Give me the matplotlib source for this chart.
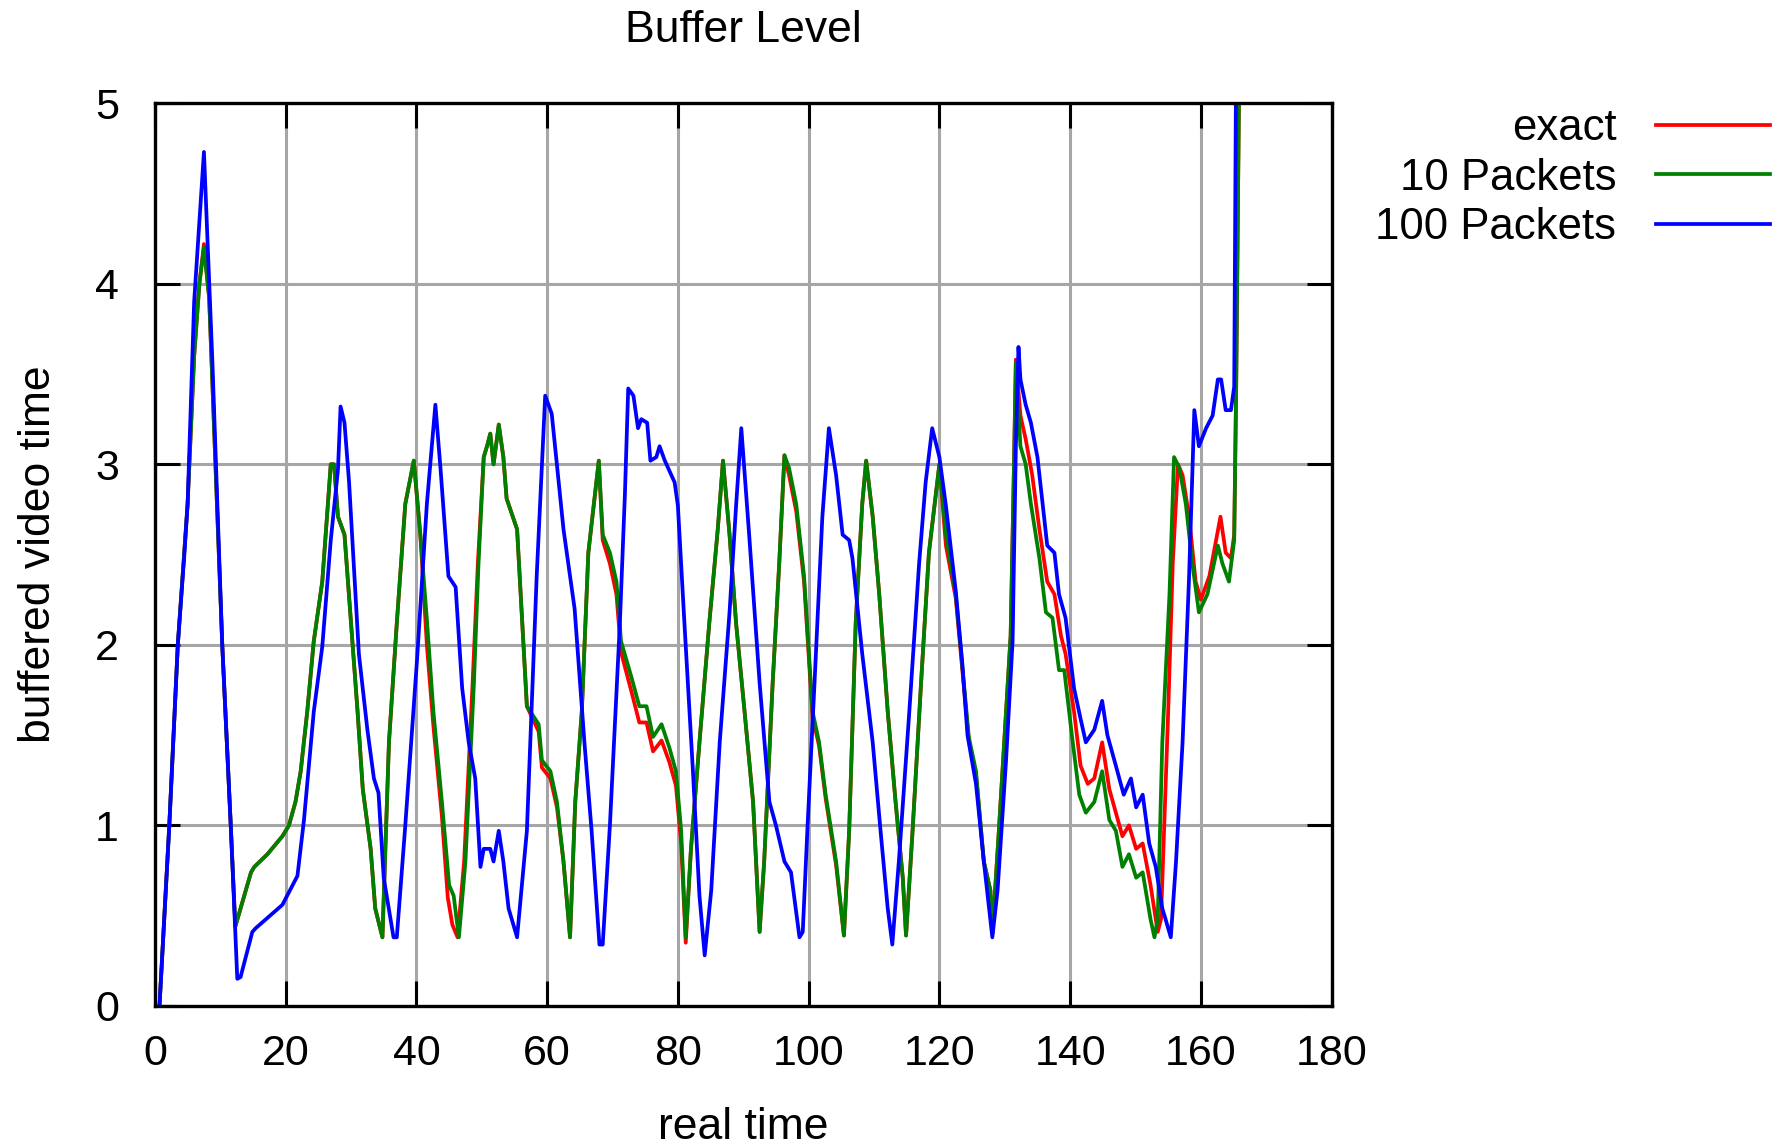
import matplotlib
matplotlib.use("Agg")
import matplotlib.pyplot as plt

plt.rcParams['font.family'] = ['Liberation Sans', 'DejaVu Sans']

title = "Buffer Level"
xlabel = "real time"
ylabel = "buffered video time"
labels = ["exact", "10 Packets", "100 Packets"]
colors = ["#ff0000", "#008000", "#0000ff"]
xticks = [0, 20, 40, 60, 80, 100, 120, 140, 160, 180]
yticks = [0, 1, 2, 3, 4, 5]

p10_t = [0.7, 2.2, 3.5, 5.0, 6.0, 6.8, 7.5, 8.3, 10.3, 11.6, 12.3, 13.1, 14.7, 15.2, 17.2, 19.5,
         20.5, 21.5, 22.3, 23.3, 24.3, 25.6, 26.9, 27.4, 28.0, 29.0, 30.0, 31.0, 31.8, 33.0, 33.7,
         34.8, 35.8, 37.0, 38.3, 39.6, 40.6, 41.6, 42.6, 43.9, 45.0, 45.7, 46.5, 47.5, 48.8, 49.5,
         50.3, 50.8, 51.3, 51.8, 52.6, 53.3, 53.8, 55.4, 56.9, 58.7, 59.2, 60.5, 61.5, 62.5, 63.5,
         64.3, 65.3, 66.3, 67.9, 68.5, 69.6, 70.6, 71.3, 72.9, 74.1, 75.2, 76.2, 77.5, 78.7, 79.7,
         80.5, 81.2, 82.0, 83.3, 84.8, 86.1, 86.9, 87.9, 88.9, 90.2, 91.5, 92.5, 93.2, 94.5, 95.5,
         96.3, 97.0, 98.1, 99.3, 100.6, 101.6, 102.6, 104.2, 105.4, 106.2, 107.2, 108.2, 108.8,
         109.8, 110.8, 112.1, 113.3, 114.4, 114.9, 115.9, 117.2, 118.4, 120.0, 121.0, 122.5, 124.5,
         125.6, 126.8, 127.8, 128.1, 129.1, 130.2, 130.9, 131.4, 131.7, 132.4, 133.2, 134.0, 135.3,
         136.3, 137.3, 138.3, 139.1, 140.4, 141.4, 142.4, 143.7, 144.9, 146.0, 147.0, 148.0, 149.0,
         150.1, 151.1, 152.3, 152.9, 153.4, 154.1, 155.2, 155.9, 156.7, 157.7, 158.7, 159.7, 161.0,
         162.6, 163.3, 164.3, 165.1, 165.4, 165.9]
p10_v = [0.0, 1.0, 2.0, 2.78, 3.6, 4.0, 4.2, 3.92, 2.0, 1.0, 0.44, 0.54, 0.74, 0.77, 0.84, 0.94,
         1.0, 1.13, 1.3, 1.63, 2.02, 2.35, 3.0, 3.0, 2.71, 2.61, 2.12, 1.63, 1.2, 0.87, 0.54,
         0.38, 1.46, 2.12, 2.78, 3.02, 2.61, 2.14, 1.63, 1.13, 0.67, 0.61, 0.38, 0.8, 1.79, 2.45,
         3.04, 3.1, 3.17, 3.0, 3.22, 3.04, 2.81, 2.64, 1.66, 1.56, 1.36, 1.3, 1.13, 0.8, 0.38,
         1.13, 1.63, 2.51, 3.02, 2.61, 2.51, 2.35, 2.02, 1.82, 1.66, 1.66, 1.49, 1.56, 1.43, 1.3,
         0.97, 0.38, 0.87, 1.46, 2.12, 2.64, 3.02, 2.61, 2.12, 1.63, 1.13, 0.41, 0.8, 1.79, 2.45,
         3.05, 2.98, 2.78, 2.38, 1.63, 1.46, 1.17, 0.8, 0.39, 0.97, 2.12, 2.78, 3.02,
         2.71, 2.28, 1.63, 1.13, 0.71, 0.39, 0.97, 1.79, 2.51, 3.0, 2.61, 2.28, 1.49,
         1.3, 0.8, 0.64, 0.4, 0.97, 1.63, 2.05, 2.97, 3.56, 3.1, 3.0, 2.78, 2.48,
         2.18, 2.15, 1.86, 1.86, 1.46, 1.17, 1.07, 1.13, 1.3, 1.03, 0.97, 0.77, 0.84,
         0.71, 0.74, 0.48, 0.38, 0.48, 1.46, 2.28, 3.04, 2.98, 2.78, 2.45, 2.18, 2.28,
         2.55, 2.45, 2.35, 2.58, 3.43, 5.3]

exact_t = [0.7, 2.2, 3.5, 5.0, 6.0, 6.8, 7.5, 8.3, 10.3, 11.6, 12.3, 13.1, 14.7, 15.2, 17.2, 19.5,
           20.5, 21.5, 22.3, 23.3, 24.3, 25.6, 26.9, 27.4, 28.0, 29.0, 30.0, 31.0, 31.8, 33.0, 33.7,
           34.8, 35.8, 37.0, 38.3, 39.6, 40.6, 41.6, 42.6, 43.9, 44.8, 45.5, 46.3, 47.3, 48.6, 49.4,
           50.3, 50.8, 51.3, 51.8, 52.6, 53.3, 53.8, 55.4, 56.9, 58.7, 59.2, 60.5, 61.5, 62.5, 63.5,
           64.3, 65.3, 66.3, 67.9, 68.5, 69.6, 70.6, 71.3, 72.9, 74.1, 75.2, 76.2, 77.5, 78.7, 79.7,
           80.5, 81.2, 82.0, 83.3, 84.8, 86.1, 86.9, 87.9, 88.9, 90.2, 91.5, 92.5, 93.2, 94.5, 95.5,
           96.3, 97.0, 98.1, 99.3, 100.6, 101.6, 102.6, 104.2, 105.4, 106.2, 107.2, 108.2, 108.8,
           109.8, 110.8, 112.1, 113.3, 114.4, 114.9, 115.9, 117.2, 118.4, 120.0, 121.0, 122.5, 124.5,
           125.6, 126.8, 127.8, 128.1, 129.1, 130.2, 130.9, 131.4, 131.7, 132.4, 133.2, 134.2, 135.3,
           136.5, 137.6, 138.6, 139.3, 140.6, 141.6, 142.7, 143.7, 144.9, 146.0, 147.0, 148.0, 149.0,
           150.1, 151.1, 152.3, 153.4, 153.9, 155.0, 155.7, 156.5, 157.2, 158.2, 159.2, 160.0, 161.3,
           163.0, 163.8, 164.6, 165.1, 165.4, 165.9]
exact_v = [0.0, 1.0, 2.0, 2.78, 3.6, 4.0, 4.22, 3.92, 2.0, 1.0, 0.44, 0.54, 0.74, 0.77, 0.84, 0.94,
           1.0, 1.13, 1.3, 1.63, 2.02, 2.35, 3.0, 3.0, 2.71, 2.61, 2.12, 1.63, 1.2, 0.87, 0.54,
           0.38, 1.46, 2.12, 2.78, 3.02, 2.61, 2.0, 1.55, 1.05, 0.6, 0.45, 0.38, 0.8, 1.79, 2.45,
           3.04, 3.1, 3.17, 3.0, 3.22, 3.04, 2.81, 2.64, 1.66, 1.52, 1.32, 1.26, 1.1, 0.8, 0.38,
           1.13, 1.63, 2.51, 3.02, 2.58, 2.45, 2.28, 1.96, 1.74, 1.57, 1.57, 1.41, 1.47, 1.35, 1.22,
           0.9, 0.35, 0.87, 1.46, 2.12, 2.64, 3.02, 2.61, 2.12, 1.63, 1.13, 0.41, 0.8, 1.79, 2.45,
           3.05, 2.94, 2.74, 2.35, 1.6, 1.44, 1.15, 0.78, 0.39, 0.97, 2.12, 2.78, 3.02,
           2.71, 2.28, 1.63, 1.13, 0.71, 0.39, 0.97, 1.79, 2.51, 3.0, 2.55, 2.26, 1.47,
           1.28, 0.8, 0.64, 0.4, 0.97, 1.63, 2.05, 2.97, 3.58, 3.27, 3.14, 2.94, 2.64,
           2.35, 2.28, 2.05, 1.95, 1.63, 1.33, 1.23, 1.26, 1.46, 1.2, 1.07, 0.94, 1.0,
           0.87, 0.9, 0.67, 0.41, 0.48, 1.63, 2.45, 3.0, 2.94, 2.71, 2.35, 2.25, 2.38,
           2.71, 2.51, 2.48, 2.61, 3.43, 5.3]

p100_t = [0.7, 2.2, 3.5, 4.5, 5.0, 6.0, 7.5, 8.8, 10.3, 11.6, 12.6, 13.1, 14.9, 15.4, 19.5, 21.8,
          22.8, 24.3, 25.6, 26.9, 28.0, 28.4, 29.0, 29.7, 31.2, 32.5, 33.5, 34.2, 35.0, 36.5, 37.0,
          38.3, 40.1, 41.6, 42.9, 43.7, 44.9, 46.0, 47.0, 48.0, 49.0, 49.8, 50.3, 51.3, 51.8, 52.6,
          53.3, 54.1, 55.4, 56.9, 58.4, 59.7, 60.7, 62.5, 64.2, 65.7, 66.8, 68.0, 68.5, 69.6, 71.1,
          71.9, 72.4, 73.2, 73.9, 74.4, 75.3, 75.8, 76.7, 77.2, 78.0, 79.5, 80.0, 81.0, 82.3, 83.3,
          84.1, 85.1, 86.4, 87.9, 88.9, 89.7, 90.9, 92.5, 94.0, 95.0, 96.3, 97.3, 98.6, 99.1, 99.8,
          100.9, 102.1, 103.1, 104.2, 105.2, 106.2, 106.7, 108.2, 109.8, 111.0, 112.1, 112.8, 113.8,
          115.4, 116.9, 117.9, 118.9, 120.0, 121.0, 122.5, 123.5, 124.3, 125.6, 126.8, 128.1, 128.9,
          130.2, 131.2, 131.7, 132.1, 132.4, 133.2, 134.0, 135.0, 135.8, 136.5, 137.6, 138.3, 139.3,
          140.6, 141.6, 142.4, 143.7, 144.9, 145.7, 147.0, 148.2, 149.3, 150.1, 151.1, 152.1, 153.1,
          154.1, 154.6, 155.4, 156.2, 157.2, 158.2, 159.0, 159.7, 160.8, 161.8, 162.6, 163.1, 163.8,
          164.6, 165.1, 165.4]
p100_v = [0.0, 1.0, 2.0, 2.5, 2.78, 3.9, 4.73, 3.56, 2.0, 1.0, 0.15, 0.16, 0.41, 0.43, 0.56, 0.72,
          1.03, 1.63, 1.99, 2.58, 2.97, 3.32, 3.23, 2.9, 1.95, 1.53, 1.26, 1.18, 0.71, 0.38, 0.38,
          1.0, 1.92, 2.78, 3.33, 2.97, 2.38, 2.32, 1.76, 1.46, 1.26, 0.77, 0.87, 0.87, 0.8, 0.97,
          0.8, 0.54, 0.38, 0.97, 2.38, 3.38, 3.28, 2.64, 2.2, 1.46, 0.97, 0.34, 0.34, 1.0, 2.1,
          2.84, 3.42, 3.38, 3.2, 3.25, 3.23, 3.02, 3.04, 3.1, 3.02, 2.9, 2.77, 2.12, 1.3, 0.61,
          0.28, 0.64, 1.46, 2.18, 2.77, 3.2, 2.61, 1.79, 1.13, 1.0, 0.8, 0.74, 0.38, 0.41, 0.97,
          1.79, 2.71, 3.2, 2.94, 2.61, 2.58, 2.48, 1.95, 1.46, 0.97, 0.54, 0.34, 0.8,
          1.63, 2.45, 2.9, 3.2, 3.04, 2.77, 2.3, 1.9, 1.5, 1.23, 0.8, 0.38, 0.64,
          1.36, 2.02, 3.1, 3.65, 3.47, 3.33, 3.23, 3.04, 2.78, 2.55, 2.51, 2.28, 2.15,
          1.76, 1.59, 1.46, 1.53, 1.69, 1.5, 1.33, 1.17, 1.26, 1.1, 1.17, 0.9, 0.77,
          0.54, 0.48, 0.38, 0.8, 1.46, 2.38, 3.3, 3.1, 3.2, 3.27, 3.47, 3.47, 3.3,
          3.3, 3.43, 5.3]

fig = plt.figure(figsize=(17.91, 11.47), dpi=100)
ax = fig.add_axes([0.0865, 0.123, 0.657, 0.787])

series = [(exact_t, exact_v), (p10_t, p10_v), (p100_t, p100_v)]
for (t, v), lab, col in zip(series, labels, colors):
    ax.plot(t, v, color=col, lw=2.7, label=lab)

ax.set_xlim(0, 180)
ax.set_ylim(0, 5)
ax.set_xticks(xticks)
ax.set_yticks(yticks)
ax.grid(True, color='#a6a6a6', lw=2.2)
ax.set_axisbelow(True)
ax.tick_params(direction='in', length=18, width=2.2, top=True, right=True,
               labelsize=31, colors='black')
ax.tick_params(axis='x', pad=20)
ax.tick_params(axis='y', pad=26)
for s in ax.spines.values():
    s.set_linewidth(2.4)
    s.set_color('black')

ax.set_title(title, fontsize=32, pad=44)
ax.set_xlabel(xlabel, fontsize=32, labelpad=24)
ax.set_ylabel(ylabel, fontsize=32, labelpad=26)

leg = ax.legend(loc='upper right', bbox_to_anchor=(0.988, 0.906), bbox_transform=fig.transFigure,
                frameon=False, markerfirst=False, fontsize=31.5, handlelength=2.6,
                handletextpad=0.9, labelspacing=0.2, borderpad=0, borderaxespad=0)

fig.savefig("out.png", dpi=100)
